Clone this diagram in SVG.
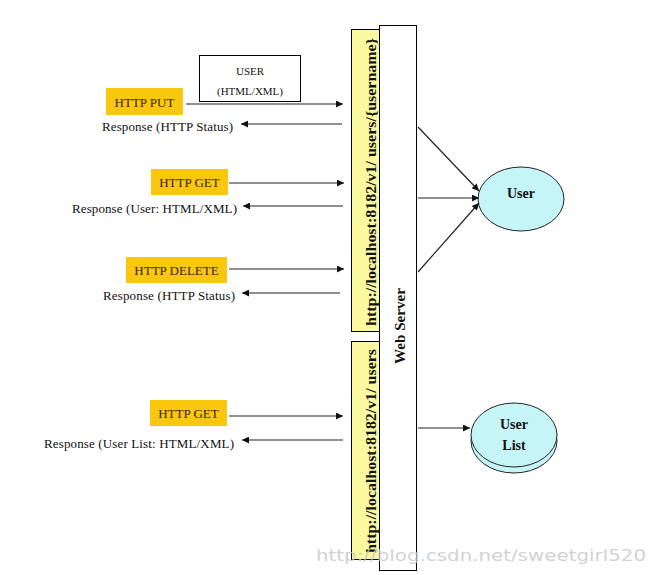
<svg xmlns="http://www.w3.org/2000/svg" width="658" height="575" viewBox="0 0 658 575" font-family="'Liberation Serif', 'Times New Roman', serif">
<style>
text{font-family:"Liberation Serif","Times New Roman",serif;fill:#111}
.lbl{font-size:13px}
.op rect{fill:#f9c80e}
.op text{font-size:13px;fill:#3a1c00;text-anchor:middle}
.url rect{fill:#fbf9a0;stroke:#000;stroke-width:1}
.url text{font-size:14px;font-weight:bold}
.ln{stroke:#222;stroke-width:1.2;fill:none;marker-end:url(#ah)}
.node{fill:#c6f5f8;stroke:#222;stroke-width:1}
.nt{font-size:14px;font-weight:bold;text-anchor:middle}
.wm{font-family:"DejaVu Sans",sans-serif;font-size:16px;fill:#c8c8c8;opacity:0.8}
</style>
<defs>
<marker id="ah" viewBox="0 0 10 10" refX="10" refY="5" markerWidth="9" markerHeight="7" markerUnits="userSpaceOnUse" orient="auto">
<path d="M0,0 L10,5 L0,10 z" fill="#111"/>
</marker>
</defs>
<rect width="658" height="575" fill="#fff"/>

<g id="url1" class="url">
<rect x="351.5" y="29.5" width="28" height="302"/>
<text transform="translate(376,326) rotate(-90)" textLength="288" lengthAdjust="spacingAndGlyphs">http://localhost:8182/v1/ users/{username}</text>
</g>
<g id="url2" class="url">
<rect x="351.5" y="341.5" width="28" height="218"/>
<text transform="translate(376,553) rotate(-90)" textLength="204" lengthAdjust="spacingAndGlyphs">http://localhost:8182/v1/ users</text>
</g>
<g id="webserver">
<rect x="379.5" y="25.5" width="37" height="545" fill="#fff" stroke="#000" stroke-width="1"/>
<text transform="translate(405,364) rotate(-90)" style="font-size:14px;font-weight:bold" textLength="76" lengthAdjust="spacingAndGlyphs">Web Server</text>
</g>

<g id="userdata">
<rect x="199.5" y="55.5" width="101" height="46" fill="#fff" stroke="#000" stroke-width="1"/>
<text x="250" y="75" text-anchor="middle" style="font-size:11px">USER</text>
<text x="250" y="95" text-anchor="middle" style="font-size:11px">(HTML/XML)</text>
</g>

<g id="put" class="op"><rect x="106" y="88" width="77" height="27"/><text x="144.5" y="107">HTTP PUT</text></g>
<g id="get1" class="op"><rect x="151" y="169" width="77" height="26"/><text x="189.5" y="187">HTTP GET</text></g>
<g id="delete" class="op"><rect x="126" y="257" width="101" height="26"/><text x="176.5" y="275">HTTP DELETE</text></g>
<g id="get2" class="op"><rect x="150" y="400" width="77" height="26"/><text x="188.5" y="418">HTTP GET</text></g>

<g id="responses">
<text class="lbl" x="102" y="131" textLength="131" lengthAdjust="spacing">Response (HTTP Status)</text>
<text class="lbl" x="72" y="213" textLength="165" lengthAdjust="spacing">Response (User: HTML/XML)</text>
<text class="lbl" x="103" y="300" textLength="132" lengthAdjust="spacing">Response (HTTP Status)</text>
<text class="lbl" x="44" y="448" textLength="190" lengthAdjust="spacing">Response (User List: HTML/XML)</text>
</g>

<g id="user">
<ellipse class="node" cx="521" cy="199" rx="43" ry="32"/>
<text class="nt" x="521" y="198">User</text>
</g>
<g id="userlist">
<ellipse class="node" cx="514" cy="441" rx="43" ry="32"/>
<ellipse class="node" cx="514" cy="435" rx="43" ry="32"/>
<text class="nt" x="514" y="429">User</text>
<text class="nt" x="514" y="450">List</text>
</g>

<g id="connectors">
<line class="ln" x1="186" y1="104" x2="343" y2="104"/>
<line class="ln" x1="342" y1="124" x2="241" y2="124"/>
<line class="ln" x1="229" y1="183" x2="344" y2="183"/>
<line class="ln" x1="343" y1="206" x2="243" y2="206"/>
<line class="ln" x1="229" y1="269" x2="344" y2="269"/>
<line class="ln" x1="340" y1="293" x2="242" y2="293"/>
<line class="ln" x1="229" y1="416" x2="343" y2="416"/>
<line class="ln" x1="343" y1="440" x2="242" y2="440"/>
<line class="ln" x1="418" y1="127" x2="479" y2="191"/>
<line class="ln" x1="418" y1="198" x2="479" y2="198"/>
<line class="ln" x1="418" y1="272" x2="479" y2="203"/>
<line class="ln" x1="418" y1="428" x2="470" y2="428"/>
</g>

<text class="wm" x="316" y="561" textLength="330" lengthAdjust="spacingAndGlyphs">http://blog.csdn.net/sweetgirl520</text>
</svg>
